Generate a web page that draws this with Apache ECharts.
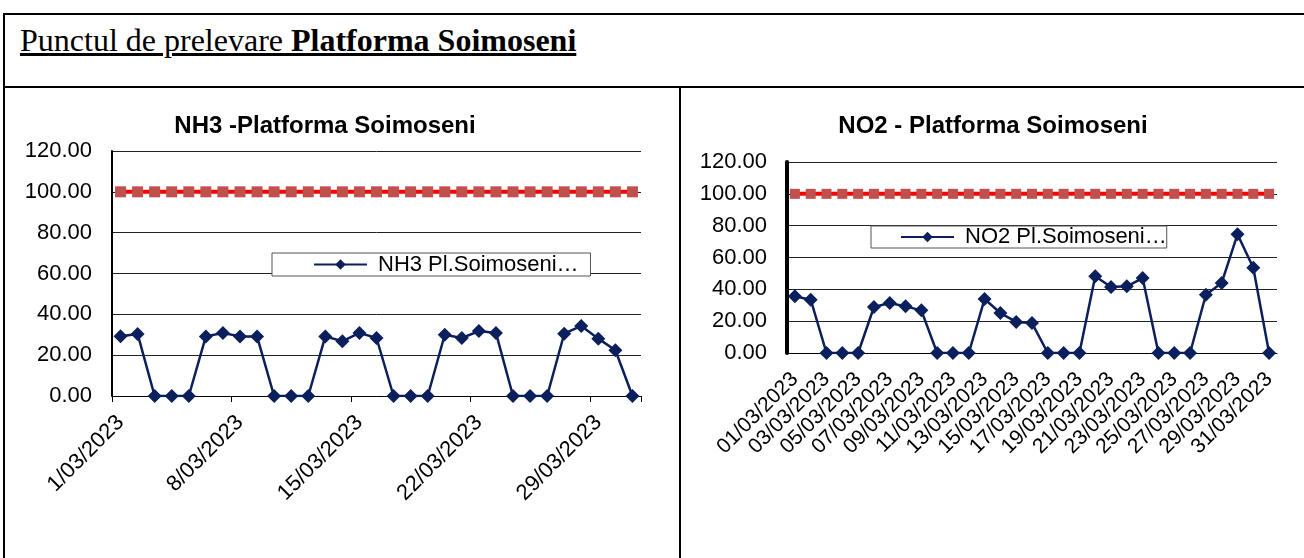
<!DOCTYPE html>
<html>
<head>
<meta charset="utf-8">
<script src="https://cdn.jsdelivr.net/npm/echarts@6/dist/echarts.min.js"></script>
<style>
  html, body { margin: 0; padding: 0; background: #fff; }
  #page { position: relative; width: 1304px; height: 558px; overflow: hidden; }
  .ln { position: absolute; background: #000; }
  #header {
    position: absolute; left: 20px; top: 22px;
    font-family: "Liberation Serif", "Times New Roman", serif;
    font-size: 32px; text-decoration: underline; color: #000; white-space: nowrap;
  }
  #chart { position: absolute; left: 0; top: 0; width: 1304px; height: 558px; }
</style>
</head>
<body>
<div id="page">
  <div class="ln" style="left:3px;top:13px;width:1301px;height:2px"></div>
  <div class="ln" style="left:3px;top:13px;width:2px;height:545px"></div>
  <div class="ln" style="left:3px;top:86px;width:1301px;height:2px"></div>
  <div class="ln" style="left:679px;top:86px;width:2px;height:472px"></div>
  <div id="header">Punctul de prelevare <b>Platforma Soimoseni</b></div>
  <div id="chart"></div>
</div>
<script>
// zilele din martie - format diferit pe cele doua grafice
var zileNH3 = ["1/03/2023","2/03/2023","3/03/2023","4/03/2023","5/03/2023","6/03/2023","7/03/2023","8/03/2023","9/03/2023","10/03/2023",
  "11/03/2023","12/03/2023","13/03/2023","14/03/2023","15/03/2023","16/03/2023","17/03/2023","18/03/2023","19/03/2023","20/03/2023",
  "21/03/2023","22/03/2023","23/03/2023","24/03/2023","25/03/2023","26/03/2023","27/03/2023","28/03/2023","29/03/2023","30/03/2023","31/03/2023"];
var zileNO2 = ["01/03/2023","02/03/2023","03/03/2023","04/03/2023","05/03/2023","06/03/2023","07/03/2023","08/03/2023","09/03/2023","10/03/2023",
  "11/03/2023","12/03/2023","13/03/2023","14/03/2023","15/03/2023","16/03/2023","17/03/2023","18/03/2023","19/03/2023","20/03/2023",
  "21/03/2023","22/03/2023","23/03/2023","24/03/2023","25/03/2023","26/03/2023","27/03/2023","28/03/2023","29/03/2023","30/03/2023","31/03/2023"];

var valNH3 = [29.3, 30.4, 0, 0, 0, 29.2, 30.9, 29.2, 29.2, 0, 0, 0, 29.2, 26.8, 30.9, 28.4,
  0, 0, 0, 30.0, 28.4, 31.8, 30.9, 0, 0, 0, 30.5, 34.3, 28.1, 22.4, 0];
var valNO2 = [35.6, 33.5, 0, 0, 0, 28.9, 31.4, 29.3, 26.8, 0, 0, 0, 33.9, 25.1, 19.5, 18.8,
  0, 0, 0, 48.2, 41.5, 41.9, 47.1, 0, 0, 0, 36.6, 44.0, 74.6, 53.6, 0];

// valoarea limita
var limita = [100, 100, 100, 100, 100, 100, 100, 100, 100, 100, 100, 100, 100, 100, 100, 100,
  100, 100, 100, 100, 100, 100, 100, 100, 100, 100, 100, 100, 100, 100, 100];

var yTicks = { min: 0, max: 120, interval: 20 };

var font = "Liberation Sans";
var navy = "#0a1f5c";

function yAxa(idx, latime) {
  return {
    type: "value", gridIndex: idx, min: yTicks.min, max: yTicks.max, interval: yTicks.interval,
    axisLine: { show: true, lineStyle: { color: "#000", width: latime } },
    axisTick: { show: false },
    axisLabel: {
      margin: 20, color: "#000", fontSize: 22, fontFamily: font,
      formatter: function (v) { return v.toFixed(2); }
    },
    splitLine: { lineStyle: { color: "#222", width: 1 } }
  };
}

function serie(nume, idx, date) {
  return {
    name: nume, type: "line", xAxisIndex: idx, yAxisIndex: idx, data: date,
    symbol: "diamond", symbolSize: 14, showAllSymbol: true, z: 3,
    lineStyle: { color: navy, width: 2.5 },
    itemStyle: { color: navy }
  };
}

function serieLimita(idx, marime) {
  return {
    name: "limita", type: "line", xAxisIndex: idx, yAxisIndex: idx, data: limita,
    symbol: "rect", symbolSize: marime, showAllSymbol: true, z: 2,
    lineStyle: { color: "#ff0000", width: 4 },
    itemStyle: { color: "#c0504d" }
  };
}

var chart = echarts.init(document.getElementById("chart"));
chart.setOption({
  animation: false,
  graphic: [
    { type: "text", x: 325, y: 126, style: { text: "NH3 -Platforma Soimoseni", fontSize: 24, fontWeight: "bold", fontFamily: font, fill: "#000", align: "center", verticalAlign: "middle" } },
    { type: "text", x: 993, y: 126, style: { text: "NO2 - Platforma Soimoseni", fontSize: 24, fontWeight: "bold", fontFamily: font, fill: "#000", align: "center", verticalAlign: "middle" } }
  ],
  legend: [
    {
      data: ["NH3 Pl.Soimoseni…"], left: 272, top: 253,
      backgroundColor: "#fff", borderColor: "#555", borderWidth: 1,
      padding: [0, 12, 0, 41], itemWidth: 53, itemHeight: 13,
      textStyle: { fontSize: 22, color: "#000", fontFamily: font, lineHeight: 23, padding: [0, 0, 0, 6] }
    },
    {
      data: ["NO2 Pl.Soimoseni…"], left: 871, top: 226,
      backgroundColor: "#fff", borderColor: "#555", borderWidth: 1,
      padding: [0, 0, 0, 29], itemWidth: 53, itemHeight: 13,
      textStyle: { fontSize: 22, color: "#000", fontFamily: font, lineHeight: 19, padding: [0, 0, 0, 6] }
    }
  ],
  grid: [
    { left: 112, right: 663, top: 151, bottom: 162 },
    { left: 787, right: 27, top: 162, bottom: 205 }
  ],
  xAxis: [
    {
      type: "category", gridIndex: 0, data: zileNH3, boundaryGap: true,
      axisLine: { lineStyle: { color: "#000", width: 1 } },
      axisTick: { show: true, interval: 6, length: 6, lineStyle: { color: "#000" } },
      axisLabel: { interval: 6, rotate: 45, margin: 23, color: "#000", fontSize: 22, fontFamily: font }
    },
    {
      type: "category", gridIndex: 1, data: zileNO2, boundaryGap: true,
      axisLine: { lineStyle: { color: "#000", width: 1 } },
      axisTick: { show: false },
      axisLabel: { interval: 1, rotate: 45, margin: 23, color: "#000", fontSize: 21, fontFamily: font }
    }
  ],
  yAxis: [yAxa(0, 2), yAxa(1, 4)],
  series: [
    serieLimita(0, 11),
    serie("NH3 Pl.Soimoseni…", 0, valNH3),
    serieLimita(1, 10),
    serie("NO2 Pl.Soimoseni…", 1, valNO2)
  ]
});
</script>
</body>
</html>
